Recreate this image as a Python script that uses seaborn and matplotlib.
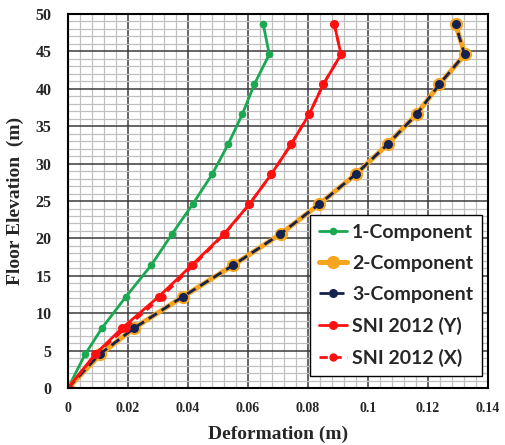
import numpy as np
import pandas as pd
import matplotlib
matplotlib.use("Agg")
import matplotlib.pyplot as plt
from matplotlib.ticker import MultipleLocator, FuncFormatter
import seaborn as sns

# ---- data ----
elevation = [0, 4.5, 8.0, 12.2, 16.4, 20.6, 24.6, 28.6, 32.6, 36.6, 40.6, 44.6, 48.6]
comp1 = [0, 0.0057, 0.0113, 0.0193, 0.0277, 0.0347, 0.0416, 0.0481, 0.0534, 0.0581, 0.0621, 0.0671, 0.0651]
comp2 = [0, 0.0108, 0.0220, 0.0383, 0.0550, 0.0709, 0.0838, 0.0960, 0.1066, 0.1162, 0.1238, 0.1323, 0.1292]
comp3 = [0, 0.0105, 0.0220, 0.0382, 0.0550, 0.0708, 0.0838, 0.0960, 0.1066, 0.1162, 0.1238, 0.1322, 0.1292]
sni_y = [0, 0.0090, 0.0180, 0.0302, 0.0412, 0.0520, 0.0605, 0.0678, 0.0744, 0.0804, 0.0851, 0.0910, 0.0888]
sni_x = [0, 0.0092, 0.0192, 0.0312, 0.0418, 0.0522, 0.0605, 0.0678, 0.0744, 0.0804, 0.0851, 0.0910, 0.0888]

labels = ["1-Component", "2-Component", "3-Component", "SNI 2012 (Y)", "SNI 2012 (X)"]
x_ticks = [0, 0.02, 0.04, 0.06, 0.08, 0.10, 0.12, 0.14]
y_ticks = [0, 5, 10, 15, 20, 25, 30, 35, 40, 45, 50]

sns.set_style("white")
plt.rcParams["font.family"] = ["DejaVu Sans"]

fig = plt.figure(figsize=(5.06, 4.45), dpi=100)
ax = fig.add_axes([0.1344, 0.128, 0.830, 0.8405])

ax.set_axisbelow(True)
ax.xaxis.set_major_locator(MultipleLocator(0.02))
ax.xaxis.set_minor_locator(MultipleLocator(0.004))
ax.yaxis.set_major_locator(MultipleLocator(5))
ax.yaxis.set_minor_locator(MultipleLocator(1))
ax.grid(which="minor", color="#c0c0c0", lw=0.9)
ax.grid(which="major", color="#3a3a3a", lw=1.1)

styles = [
    (comp1, "#1aa851", "-", 2.0, 5.5),
    (comp2, "#f7a51e", "-", 3.6, 9.5),
    (comp3, "#15214f", (0, (3.5, 2.0)), 2.0, 6.5),
    (sni_y, "#ff1010", "-", 2.0, 6.5),
    (sni_x, "#ff1010", (0, (3.0, 2.0)), 2.0, 6.0),
]
for (vals, col, ls, lw, ms), lab in zip(styles, labels):
    sns.lineplot(x=vals, y=elevation, sort=False, estimator=None, ax=ax,
                 color=col, linestyle=ls, linewidth=lw, marker="o",
                 markersize=ms, markeredgewidth=0, label=lab)

ax.set_xlim(0, 0.14)
ax.set_ylim(0, 50)
ax.set_xticks(x_ticks)
ax.set_yticks(y_ticks)
ax.xaxis.set_major_formatter(FuncFormatter(lambda v, p: "%g" % round(v, 3)))
ax.tick_params(axis="both", which="both", length=0)
ax.tick_params(axis="x", pad=10)
ax.tick_params(axis="y", pad=12)
for t in ax.get_xticklabels():
    t.set_fontfamily("Liberation Serif"); t.set_fontweight("bold"); t.set_fontsize(10)
for t in ax.get_yticklabels():
    t.set_fontfamily("Liberation Serif"); t.set_fontweight("bold"); t.set_fontsize(11.5)

for s in ax.spines.values():
    s.set_color("black"); s.set_linewidth(1.5); s.set_visible(True)

ax.set_xlabel("Deformation (m)", fontfamily="Liberation Serif", fontweight="bold",
              fontsize=14, labelpad=8)
ax.set_ylabel("Floor Elevation  (m)", fontfamily="Liberation Serif", fontweight="bold",
              fontsize=14, labelpad=8)

leg = ax.legend(loc="lower right", bbox_to_anchor=(0.986, 0.032),
                prop={"family": "Lato", "weight": "bold", "size": 14},
                frameon=True, fancybox=False, edgecolor="black", framealpha=1,
                handlelength=1.45, handletextpad=0.25, labelspacing=0.72,
                borderpad=0.45, borderaxespad=0)
leg.get_frame().set_linewidth(1.0)

fig.savefig("out.png", dpi=100)
